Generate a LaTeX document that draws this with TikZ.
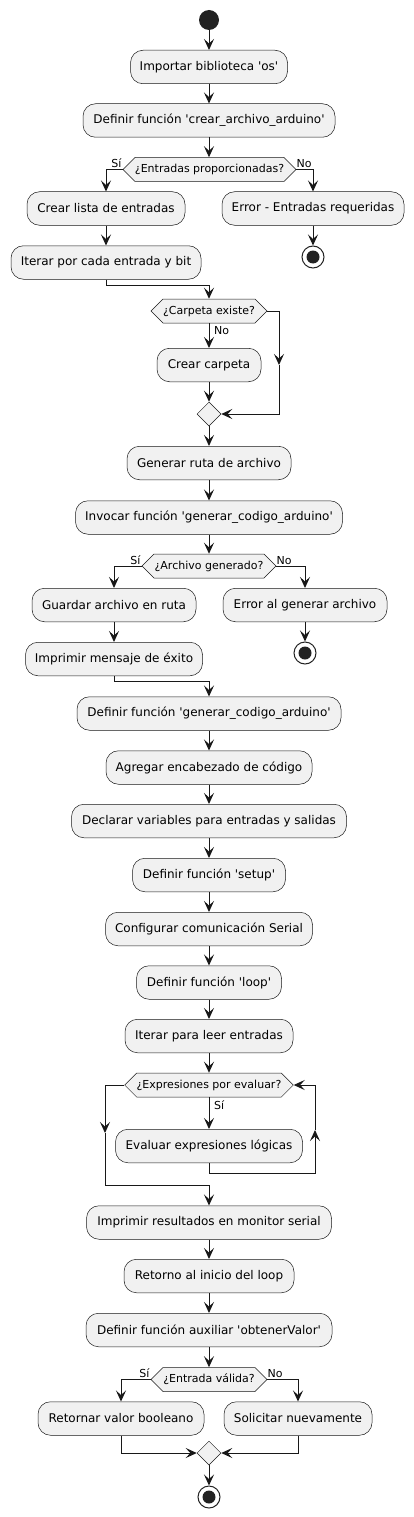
\documentclass[tikz,border=0pt]{standalone}
\usepackage{fontspec}
\setmainfont{DejaVu Sans}[Ligatures=TeXOff]
\usetikzlibrary{shapes.geometric,shapes.symbols,arrows.meta,calc}
\definecolor{ln}{HTML}{181818}
\definecolor{bx}{HTML}{F1F1F1}
\definecolor{st}{HTML}{222222}
\begin{document}
\begin{tikzpicture}[x=1pt,y=-1pt,
  act/.style={rectangle, rounded corners=12.5pt, draw=ln, line width=0.5pt, fill=bx,
    minimum height=33.5pt, inner sep=0pt, font=\fontsize{12}{14}\selectfont, text=black},
  dec/.style={shape=signal, signal to=west and east, signal pointer angle=90, draw=ln,
    line width=0.5pt, fill=bx, minimum height=24pt, inner sep=0pt,
    font=\fontsize{11}{13}\selectfont, text=black},
  mrg/.style={diamond, draw=ln, line width=0.5pt, fill=bx, minimum width=24pt,
    minimum height=24pt, inner sep=0pt},
  startn/.style={circle, fill=st, minimum size=20pt, inner sep=0pt},
  stopn/.style={circle, draw=st, line width=1pt, fill=white, minimum size=22pt, inner sep=0pt,
    path picture={\fill[st] (path picture bounding box.center) circle (6.5pt);}},
  arr/.style={draw=ln, line width=1pt, -{Stealth[length=11pt,width=10pt,inset=4.5pt]}},
  lbl/.style={font=\fontsize{11}{13}\selectfont, inner sep=0pt, text=black}
]
\useasboundingbox (0,0) rectangle (414,1517);

\node[startn] (s0) at (209,20) {};
\node[act, minimum width=157pt] (a1) at (209,67) {Importar biblioteca 'os'};
\node[act, minimum width=252pt] (a2) at (209,120.5) {Definir función 'crear\_archivo\_arduino'};
\node[dec, minimum width=173pt] (d1) at (209.5,169.5) {¿Entradas proporcionadas?};
\node[act, minimum width=158pt] (b1) at (106,208.5) {Crear lista de entradas};
\node[act, minimum width=182pt] (e1) at (313,208.5) {Error - Entradas requeridas};
\node[stopn] (t1) at (313,257) {};
\node[act, minimum width=190pt] (b2) at (106,262.5) {Iterar por cada entrada y bit};
\node[dec, minimum width=115pt] (d2) at (209,311) {¿Carpeta existe?};
\node[act, minimum width=104pt] (b3) at (209,365) {Crear carpeta};
\node[mrg] (m1) at (209,414) {};
\node[act, minimum width=164pt] (a3) at (209,463) {Generar ruta de archivo};
\node[act, minimum width=267pt] (a4) at (209,517.5) {Invocar función 'generar\_codigo\_arduino'};
\node[dec, minimum width=134pt] (d3) at (209,566) {¿Archivo generado?};
\node[act, minimum width=164pt] (b4) at (114,605) {Guardar archivo en ruta};
\node[act, minimum width=164pt] (e2) at (305,605) {Error al generar archivo};
\node[stopn] (t2) at (305,653) {};
\node[act, minimum width=177pt] (b5) at (114,659) {Imprimir mensaje de éxito};
\node[act, minimum width=264pt] (a5) at (209,713.5) {Definir función 'generar\_codigo\_arduino'};
\node[act, minimum width=206pt] (a6) at (209,767.5) {Agregar encabezado de código};
\node[act, minimum width=275pt] (a7) at (209,821) {Declarar variables para entradas y salidas};
\node[act, minimum width=153pt] (a8) at (209,875) {Definir función 'setup'};
\node[act, minimum width=207pt] (a9) at (209,929) {Configurar comunicación Serial};
\node[act, minimum width=145pt] (a10) at (209,982.5) {Definir función 'loop'};
\node[act, minimum width=168pt] (a11) at (209,1036) {Iterar para leer entradas};
\node[dec, minimum width=168pt] (d4) at (209,1085) {¿Expresiones por evaluar?};
\node[act, minimum width=187pt] (b6) at (209,1146) {Evaluar expresiones lógicas};
\node[act, minimum width=245pt] (a12) at (209,1222.5) {Imprimir resultados en monitor serial};
\node[act, minimum width=170pt] (a13) at (209,1276) {Retorno al inicio del loop};
\node[act, minimum width=246pt] (a14) at (209,1330) {Definir función auxiliar 'obtenerValor'};
\node[dec, minimum width=116pt] (d5) at (209,1379.5) {¿Entrada válida?};
\node[act, minimum width=166pt] (b7) at (121,1418.5) {Retornar valor booleano};
\node[act, minimum width=148pt] (e3) at (298,1418.5) {Solicitar nuevamente};
\node[mrg] (m2) at (209,1453) {};
\node[stopn] (t3) at (209,1497) {};

\coordinate (k1) at (279,311);
\coordinate (k1m) at (279,365);
\coordinate (k1b) at (279,414);
\coordinate (k2) at (315,1173);
\coordinate (k2m) at (315,1130);
\coordinate (k2t) at (315,1085);
\coordinate (k3) at (105,1085);
\coordinate (k3m) at (105,1133);
\coordinate (k3b) at (105,1185);

\draw[arr] (s0.south) -- (a1.north);
\draw[arr] (a1.south) -- (a2.north);
\draw[arr] (a2.south) -- (a2.south |- d1.north);
\draw[arr] (d1.west) -| (b1.north);
\draw[arr] (d1.east) -| (e1.north);
\draw[arr] (e1.south) -- (t1.north);
\draw[arr] (b1.south) -- (b2.north);
\draw[arr] (b2.south) -- ++(0,5.5) -| (d2.north);
\draw[arr] (d2.south) -- (b3.north);
\draw[arr] (b3.south) -- (m1.north);
\draw[arr] (d2.east) -- (k1) -- (k1m);
\draw[arr] (k1m) -- (k1b) -- (m1.east);
\draw[arr] (m1.south) -- (a3.north);
\draw[arr] (a3.south) -- (a4.north);
\draw[arr] (a4.south) -- (d3.north);
\draw[arr] (d3.west) -| (b4.north);
\draw[arr] (d3.east) -| (e2.north);
\draw[arr] (e2.south) -- (t2.north);
\draw[arr] (b4.south) -- (b5.north);
\draw[arr] (b5.south) -- ++(0,5.5) -| (a5.north);
\draw[arr] (a5.south) -- (a6.north);
\draw[arr] (a6.south) -- (a7.north);
\draw[arr] (a7.south) -- (a8.north);
\draw[arr] (a8.south) -- (a9.north);
\draw[arr] (a9.south) -- (a10.north);
\draw[arr] (a10.south) -- (a11.north);
\draw[arr] (a11.south) -- (d4.north);
\draw[arr] (d4.south) -- (b6.north);
\draw[arr] (b6.south) |- (k2) -- (k2m);
\draw[arr] (k2m) -- (k2t) -- (d4.east);
\draw[arr] (d4.west) -- (k3) -- (k3m);
\draw[arr] (k3m) -- (k3b) -| (a12.north);
\draw[arr] (a12.south) -- (a13.north);
\draw[arr] (a13.south) -- (a14.north);
\draw[arr] (a14.south) -- (d5.north);
\draw[arr] (d5.west) -| (b7.north);
\draw[arr] (d5.east) -| (e3.north);
\draw[arr] (b7.south) |- (m2.west);
\draw[arr] (e3.south) |- (m2.east);
\draw[arr] (m2.south) -- (t3.north);

\node[lbl, anchor=south east] at ($(d1.west)+(-1,-1.5)$) {Sí};
\node[lbl, anchor=south west] at ($(d1.east)+(0,-1.5)$) {No};
\node[lbl, anchor=north west] at ($(d2.south)+(5,3)$) {No};
\node[lbl, anchor=south east] at ($(d3.west)+(-1,-1.5)$) {Sí};
\node[lbl, anchor=south west] at ($(d3.east)+(0,-1.5)$) {No};
\node[lbl, anchor=north west] at ($(d4.south)+(5,3)$) {Sí};
\node[lbl, anchor=south east] at ($(d5.west)+(-1,-1.5)$) {Sí};
\node[lbl, anchor=south west] at ($(d5.east)+(0,-1.5)$) {No};
\end{tikzpicture}
\end{document}
